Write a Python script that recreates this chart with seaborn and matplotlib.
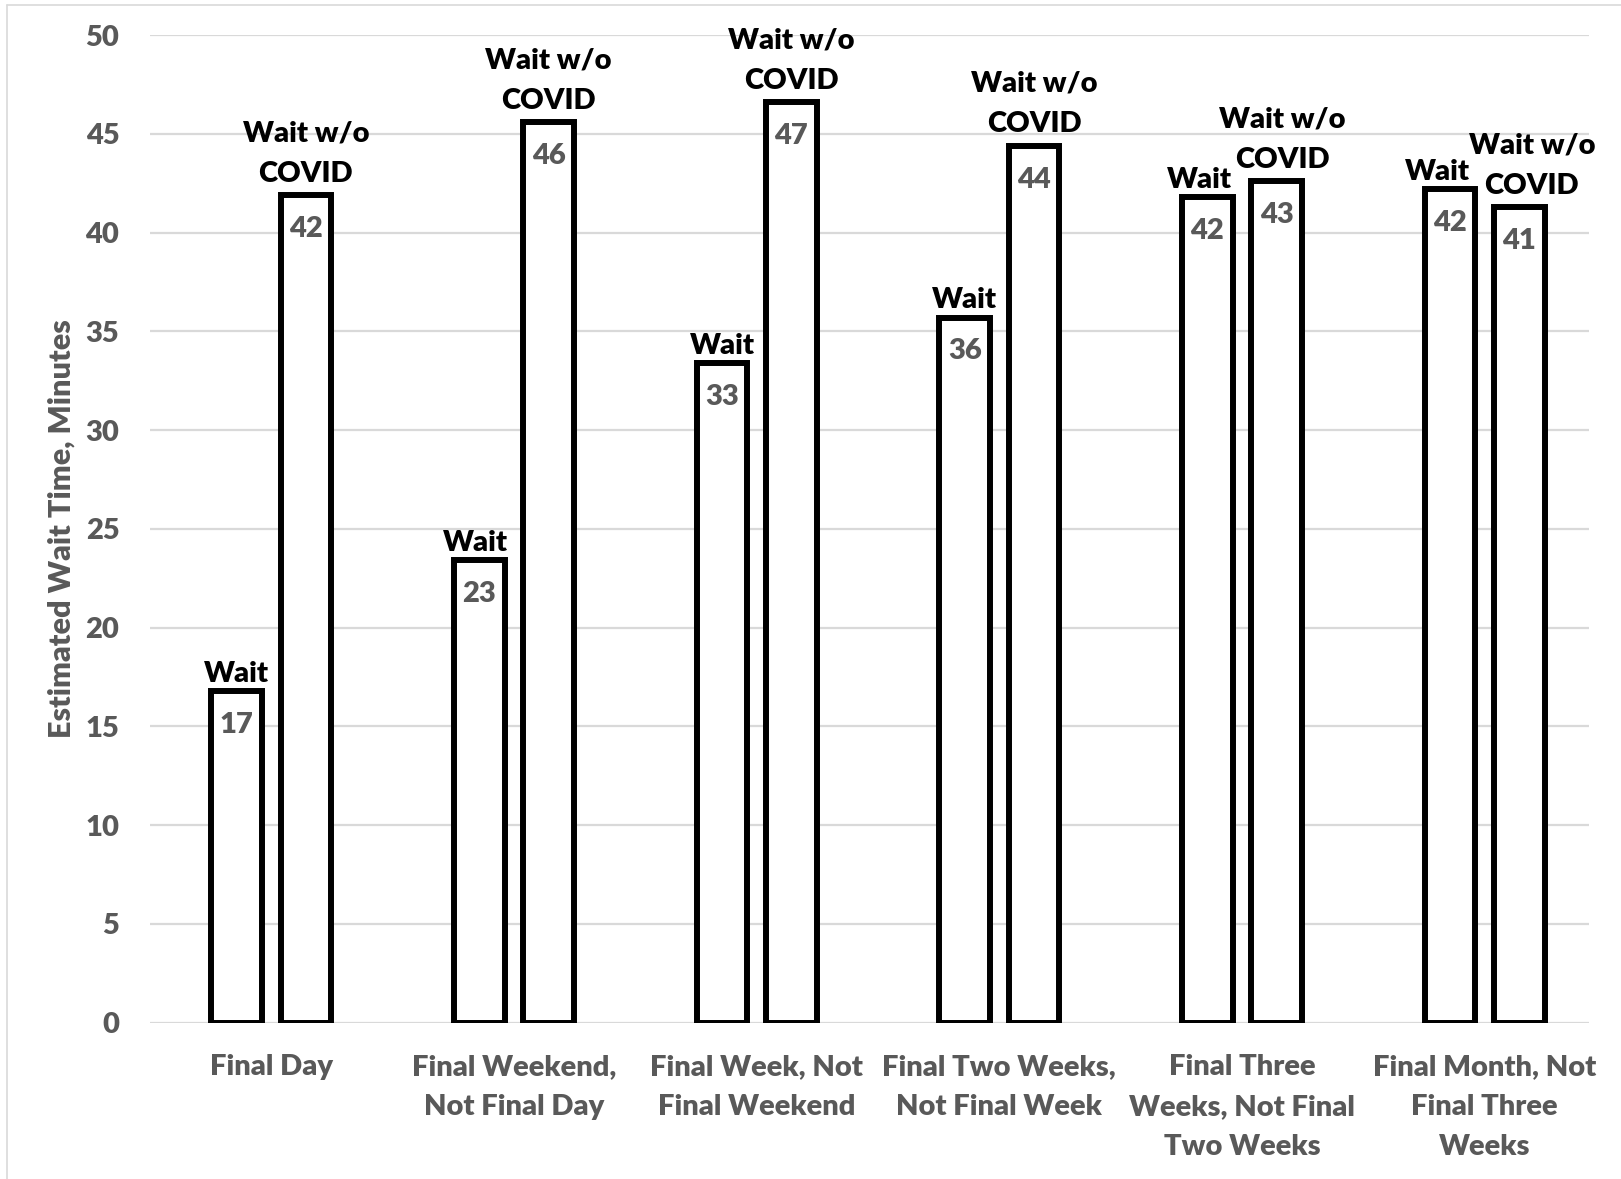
import matplotlib
matplotlib.use("Agg")
import matplotlib.pyplot as plt
import seaborn as sns
import pandas as pd
from matplotlib.lines import Line2D

# Estimated wait times (minutes) by period before the deadline
categories = [
    "Final Day",
    "Final Weekend,\nNot Final Day",
    "Final Week, Not\nFinal Weekend",
    "Final Two Weeks,\nNot Final Week",
    "Final Three\nWeeks, Not Final\nTwo Weeks",
    "Final Month, Not\nFinal Three\nWeeks",
]
series_names = ["Wait", "Wait w/o\nCOVID"]
wait = [16.8, 23.4, 33.4, 35.7, 41.8, 42.2]
wait_no_covid = [41.9, 45.6, 46.6, 44.4, 42.6, 41.3]
y_ticks = [0, 5, 10, 15, 20, 25, 30, 35, 40, 45, 50]
y_label = "Estimated Wait Time, Minutes"

# horizontal nudges (points) for the series-name labels, keeps them apart in tight groups
name_nudge = {
    "Wait": [0, -3, 0, 0, -6, -9],
    "Wait w/o\nCOVID": [0, 0, 0, 0, 4, 9],
}
# vertical gap (points) between bar top and its series-name label
name_lift = {"Wait": 3, "Wait w/o\nCOVID": 6}

df = pd.DataFrame({
    "category": categories * 2,
    "series": [series_names[0]] * len(categories) + [series_names[1]] * len(categories),
    "value": wait + wait_no_covid,
})

sns.set_theme(style="white")
plt.rcParams["font.family"] = ["Lato", "DejaVu Sans"]
W = "heavy"
plt.rcParams["font.weight"] = W
plt.rcParams["axes.labelweight"] = W

GRAY = "#595959"
GRID = "#d9d9d9"
FS = 21

fig = plt.figure(figsize=(16.21, 11.79), dpi=100)
ax = fig.add_axes([0.0925, 0.1327, 0.8878, 0.8374])

sns.barplot(
    data=df, x="category", y="value", hue="series",
    order=categories, hue_order=series_names,
    palette={s: "white" for s in series_names},
    edgecolor="black", linewidth=4.3, width=0.571, gap=0.27,
    legend=False, ax=ax, zorder=3,
)

ax.set_ylim(0, 50)
ax.set_xlim(-0.5, 5.43)
ax.set_yticks(y_ticks)
ax.set_yticklabels([str(t) for t in y_ticks], fontsize=FS, fontweight=W, color=GRAY)
ax.set_xticks(range(len(categories)))
ax.set_xticklabels(categories, fontsize=FS, fontweight=W, color=GRAY, linespacing=1.66)
ax.yaxis.grid(True, color=GRID, linewidth=1.6, zorder=0)
ax.xaxis.grid(False)
ax.set_axisbelow(True)
for sp in ax.spines.values():
    sp.set_visible(False)

ax.tick_params(axis="y", length=0, pad=22)
ax.tick_params(axis="x", length=0, pad=23)

ax.set_xlabel("")
ax.set_ylabel(y_label, fontsize=22, fontweight=W, color=GRAY, labelpad=7)

for name, container in zip(series_names, ax.containers):
    for i, bar in enumerate(container):
        h = bar.get_height()
        xc = bar.get_x() + bar.get_width() / 2
        ax.annotate(name, (xc, h), xytext=(name_nudge[name][i], name_lift[name]),
                    textcoords="offset points", ha="center", va="bottom",
                    fontsize=FS, fontweight=W, color="black",
                    linespacing=1.7, annotation_clip=False, zorder=5)
        ax.annotate(f"{h:.0f}", (xc, h), xytext=(0, -15),
                    textcoords="offset points", ha="center", va="top",
                    fontsize=FS, fontweight=W, color=GRAY, zorder=5)

# light frame around the chart area
fig.add_artist(Line2D([0.0043, 1.0], [0.996, 0.996], transform=fig.transFigure,
                      color=GRID, linewidth=1.2))
fig.add_artist(Line2D([0.0043, 0.0043], [0.0, 0.996], transform=fig.transFigure,
                      color=GRID, linewidth=1.2))

fig.savefig("out.png", dpi=100, facecolor="white")
